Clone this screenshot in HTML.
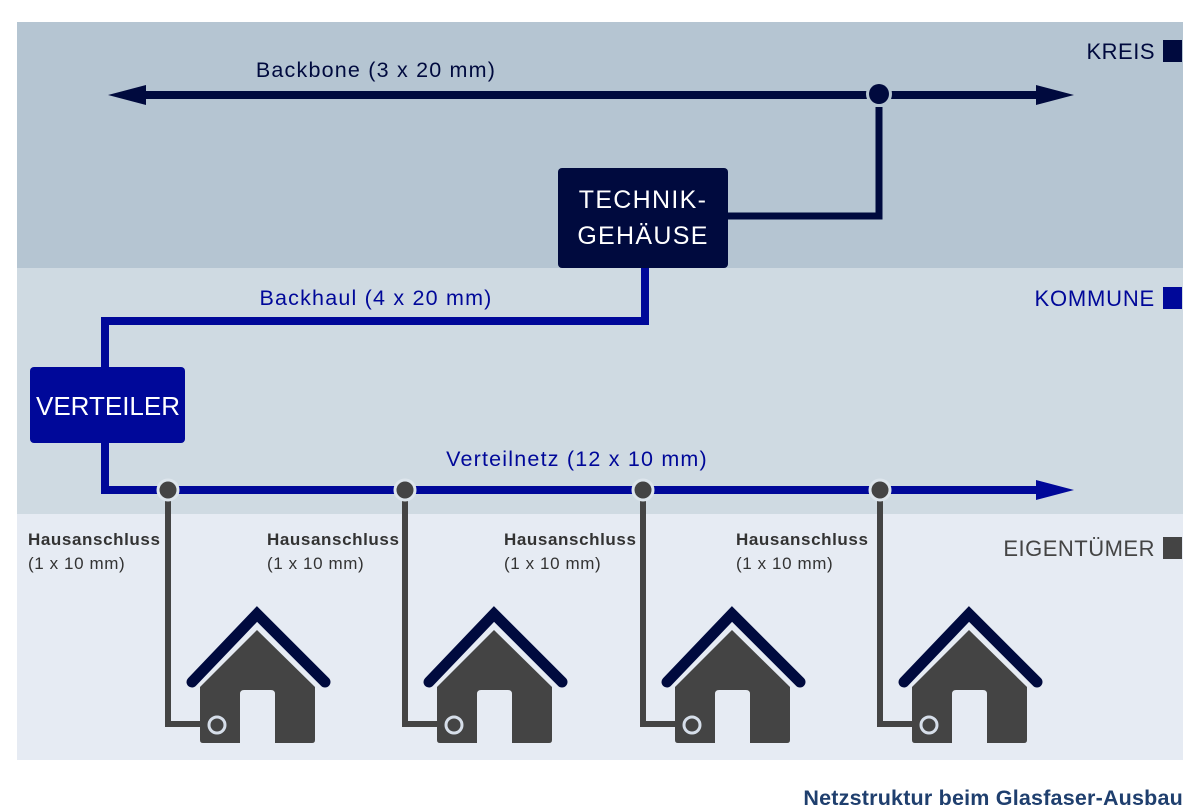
<!DOCTYPE html>
<html><head><meta charset="utf-8"><style>
body{margin:0;background:#fff;}
svg{display:block;font-family:"Liberation Sans",sans-serif;}
</style></head><body>
<svg width="1200" height="807" viewBox="0 0 1200 807">
<defs>
<g id="house">
<polyline points="192,682 257,614 325,682" fill="none" stroke="#000a3e" stroke-width="11" stroke-linecap="round" stroke-linejoin="miter"/>
<path d="M200,687 L257,630 L315,687 L315,740 Q315,743 312,743 L203,743 Q200,743 200,740 Z" fill="#444"/>
<path d="M240,743 L240,694 Q240,690 244,690 L271,690 Q275,690 275,694 L275,743 Z" fill="#e6ebf3"/>
</g>
</defs>
<rect x="17" y="22" width="1166" height="246" fill="#b5c5d2"/>
<rect x="17" y="268" width="1166" height="246" fill="#cfdae2"/>
<rect x="17" y="514" width="1166" height="246" fill="#e6ebf3"/>

<!-- backbone -->
<line x1="128" y1="95" x2="1050" y2="95" stroke="#000a3e" stroke-width="8"/>
<polygon points="108,95 146,85 146,105" fill="#000a3e"/>
<polygon points="1074,95 1036,85 1036,105" fill="#000a3e"/>
<circle cx="879" cy="94" r="13" fill="#b5c5d2"/>
<circle cx="879" cy="94" r="10" fill="#000a3e"/>
<polyline points="879,107 879,216 728,216" fill="none" stroke="#000a3e" stroke-width="7"/>
<text x="376" y="77" font-size="21.5" letter-spacing="1.2" fill="#000a3e" text-anchor="middle">Backbone (3 x 20 mm)</text>
<rect x="558" y="168" width="170" height="100" rx="4" fill="#000a3e"/>
<text x="643" y="208" font-size="25" fill="#fff" text-anchor="middle" letter-spacing="1.3">TECHNIK-</text>
<text x="643" y="244" font-size="25" fill="#fff" text-anchor="middle" letter-spacing="1.3">GEHÄUSE</text>

<!-- backhaul -->
<polyline points="645,268 645,321 105,321 105,368" fill="none" stroke="#000899" stroke-width="8"/>
<text x="376" y="305" font-size="21.5" letter-spacing="1.2" fill="#000899" text-anchor="middle">Backhaul (4 x 20 mm)</text>
<rect x="30" y="367" width="155" height="76" rx="4" fill="#000899"/>
<text x="108" y="415" font-size="26" fill="#fff" text-anchor="middle">VERTEILER</text>
<polyline points="105,443 105,490 1050,490" fill="none" stroke="#000899" stroke-width="8"/>
<polygon points="1074,490 1036,480 1036,500" fill="#000899"/>
<text x="577" y="466" font-size="21.5" letter-spacing="1.2" fill="#000899" text-anchor="middle">Verteilnetz (12 x 10 mm)</text>

<!-- labels right -->
<text x="1155" y="59" font-size="22" letter-spacing="0.5" fill="#000a3e" text-anchor="end">KREIS</text>
<rect x="1163" y="40" width="19" height="22" fill="#000a3e"/>
<text x="1155" y="306" font-size="22" letter-spacing="0.8" fill="#000899" text-anchor="end">KOMMUNE</text>
<rect x="1163" y="287" width="19" height="22" fill="#000899"/>
<text x="1155" y="556" font-size="22" letter-spacing="0.5" fill="#444" text-anchor="end">EIGENTÜMER</text>
<rect x="1163" y="537" width="19" height="22" fill="#444"/>

<!-- houses -->
<g>
<polyline points="168,490 168,724 205,724" fill="none" stroke="#444" stroke-width="6"/>
<circle cx="168" cy="490" r="10" fill="#444" stroke="#dde5ec" stroke-width="3"/>
<use href="#house"/>
<circle cx="217" cy="725" r="8" fill="#444" stroke="#d6dee9" stroke-width="3"/>
<text x="28" y="545" font-size="17" letter-spacing="0.6" fill="#333" font-weight="bold">Hausanschluss</text>
<text x="28" y="569" font-size="17" letter-spacing="0.6" fill="#333">(1 x 10 mm)</text>
</g>
<g transform="translate(237,0)">
<polyline points="168,490 168,724 205,724" fill="none" stroke="#444" stroke-width="6"/>
<circle cx="168" cy="490" r="10" fill="#444" stroke="#dde5ec" stroke-width="3"/>
<use href="#house"/>
<circle cx="217" cy="725" r="8" fill="#444" stroke="#d6dee9" stroke-width="3"/>
<text x="30" y="545" font-size="17" letter-spacing="0.6" fill="#333" font-weight="bold">Hausanschluss</text>
<text x="30" y="569" font-size="17" letter-spacing="0.6" fill="#333">(1 x 10 mm)</text>
</g>
<g transform="translate(475,0)">
<polyline points="168,490 168,724 205,724" fill="none" stroke="#444" stroke-width="6"/>
<circle cx="168" cy="490" r="10" fill="#444" stroke="#dde5ec" stroke-width="3"/>
<use href="#house"/>
<circle cx="217" cy="725" r="8" fill="#444" stroke="#d6dee9" stroke-width="3"/>
<text x="29" y="545" font-size="17" letter-spacing="0.6" fill="#333" font-weight="bold">Hausanschluss</text>
<text x="29" y="569" font-size="17" letter-spacing="0.6" fill="#333">(1 x 10 mm)</text>
</g>
<g transform="translate(712,0)">
<polyline points="168,490 168,724 205,724" fill="none" stroke="#444" stroke-width="6"/>
<circle cx="168" cy="490" r="10" fill="#444" stroke="#dde5ec" stroke-width="3"/>
<use href="#house"/>
<circle cx="217" cy="725" r="8" fill="#444" stroke="#d6dee9" stroke-width="3"/>
<text x="24" y="545" font-size="17" letter-spacing="0.6" fill="#333" font-weight="bold">Hausanschluss</text>
<text x="24" y="569" font-size="17" letter-spacing="0.6" fill="#333">(1 x 10 mm)</text>
</g>

<text x="1183" y="805" font-size="21.5" letter-spacing="0.2" font-weight="bold" fill="#1f3f6e" text-anchor="end">Netzstruktur beim Glasfaser-Ausbau</text>
</svg>
</body></html>
